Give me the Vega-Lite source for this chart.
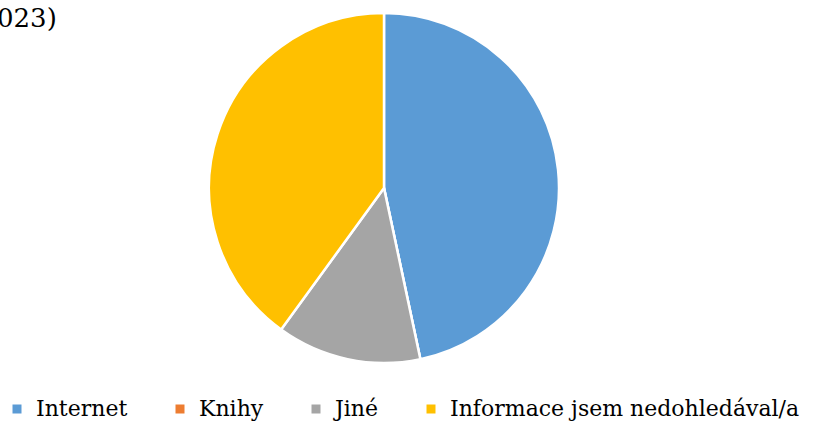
{
  "$schema": "https://vega.github.io/schema/vega-lite/v6.json",
  "width": 768,
  "height": 376,
  "autosize": {"type": "none"},
  "padding": {"left": 0, "top": 0, "right": 51, "bottom": 47},
  "background": "white",
  "title": {
    "text": "023)",
    "anchor": "start",
    "frame": "group",
    "orient": "top",
    "baseline": "top",
    "offset": -32,
    "dx": -3,
    "font": "DejaVu Serif",
    "fontSize": 26,
    "fontWeight": "normal",
    "color": "black"
  },
  "data": {
    "values": [
      {"zdroj": "Internet", "pocet": 7, "poradi": 1},
      {"zdroj": "Knihy", "pocet": 0, "poradi": 2},
      {"zdroj": "Jiné", "pocet": 2, "poradi": 3},
      {"zdroj": "Informace jsem nedohledával/a", "pocet": 6, "poradi": 4}
    ]
  },
  "mark": {"type": "arc", "outerRadius": 175, "stroke": "white", "strokeWidth": 2.5},
  "encoding": {
    "theta": {"field": "pocet", "type": "quantitative", "stack": true},
    "order": {"field": "poradi", "type": "quantitative", "sort": "ascending"},
    "color": {
      "field": "zdroj",
      "type": "nominal",
      "sort": ["Internet", "Knihy", "Jiné", "Informace jsem nedohledával/a"],
      "scale": {
        "domain": ["Internet", "Knihy", "Jiné", "Informace jsem nedohledával/a"],
        "range": ["#5B9BD5", "#ED7D31", "#A5A5A5", "#FFC000"]
      },
      "legend": {
        "title": null,
        "orient": "none",
        "direction": "horizontal",
        "legendX": 6,
        "legendY": 398,
        "padding": 0,
        "symbolType": "square",
        "symbolSize": 81,
        "symbolStrokeWidth": 0,
        "labelFont": "DejaVu Serif",
        "labelFontSize": 22,
        "labelColor": "black",
        "labelOffset": 8,
        "columnPadding": 41,
        "labelLimit": 500
      }
    }
  }
}
